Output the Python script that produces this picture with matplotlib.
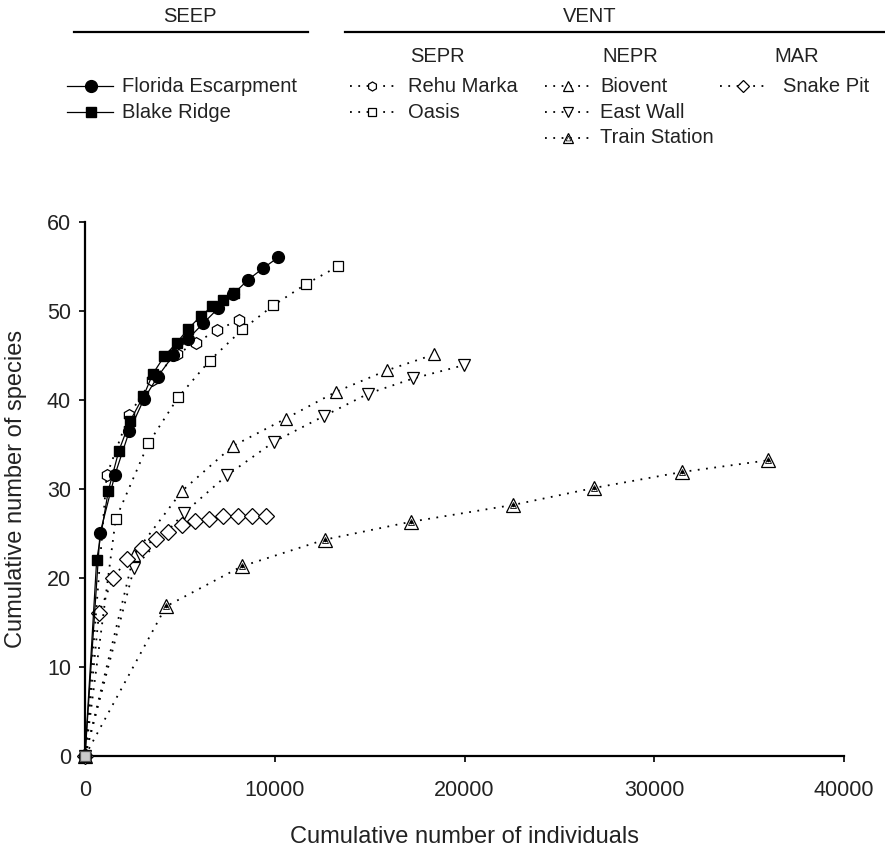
import matplotlib
matplotlib.use('Agg')
import matplotlib.pyplot as plt
from matplotlib.lines import Line2D

plt.rcParams['font.family'] = ['Liberation Sans', 'DejaVu Sans']

# cumulative individuals / cumulative species
fe_x = [0, 790, 1580, 2340, 3110, 3830, 4660, 5410, 6240, 7030, 7820, 8610, 9400, 10190]
fe_y = [0, 25.0, 31.6, 36.5, 40.1, 42.6, 45.0, 46.8, 48.6, 50.3, 51.9, 53.5, 54.8, 56.0]
br_x = [0, 615, 1230, 1790, 2370, 3080, 3570, 4180, 4830, 5450, 6100, 6710, 7260, 7850]
br_y = [0, 22.0, 29.8, 34.3, 37.6, 40.4, 42.9, 44.9, 46.4, 48.0, 49.4, 50.5, 51.2, 52.0]
rm_x = [0, 1140, 2320, 3515, 4830, 5850, 6940, 8140]
rm_y = [0, 31.5, 38.3, 42.2, 45.1, 46.4, 47.8, 49.0]
oa_x = [0, 1617, 3339, 4921, 6570, 8295, 9925, 11647, 13350]
oa_y = [0, 26.6, 35.1, 40.3, 44.4, 47.9, 50.6, 53.0, 55.0]
bv_x = [0, 2580, 5130, 7785, 10585, 13230, 15900, 18410]
bv_y = [0, 22.6, 29.8, 34.8, 37.9, 40.9, 43.3, 45.1]
ew_x = [0, 2583, 5220, 7469, 9970, 12615, 14935, 17300, 19990]
ew_y = [0, 21.1, 27.3, 31.5, 35.3, 38.2, 40.7, 42.4, 43.9]
ts_x = [0, 4270, 8260, 12650, 17165, 22575, 26825, 31480, 35980]
ts_y = [0, 16.8, 21.3, 24.3, 26.3, 28.2, 30.1, 31.9, 33.2]
sp_x = [0, 738, 1494, 2232, 2988, 3726, 4394, 5097, 5800, 6555, 7293, 8049, 8787, 9543]
sp_y = [0, 16.1, 20.0, 22.1, 23.4, 24.4, 25.1, 25.9, 26.4, 26.6, 26.9, 26.9, 27.0, 27.0]

xticks = [0, 10000, 20000, 30000, 40000]
yticks = [0, 10, 20, 30, 40, 50, 60]

W, H = 885, 851
fig = plt.figure(figsize=(W / 100, H / 100), dpi=100, facecolor='w')
ax = fig.add_axes([85 / W, 1 - 756 / H, (844 - 85) / W, (756 - 221.7) / H])

dot = (0, (1, 3.6))
solid_kw = dict(color='black', lw=0.9, ls='-', mec='black', mfc='black', clip_on=False)
open_kw = dict(color='black', lw=1.3, ls=dot, mec='black', mfc='white', mew=0.9, clip_on=False)

ax.plot(ts_x, ts_y, marker='^', ms=9.5, zorder=3, **open_kw)
ax.plot(ts_x[1:], ts_y[1:], ls='none', marker='^', ms=4.5, mec='black', mfc='none', mew=0.6, zorder=4)
ax.plot(ts_x[1:], ts_y[1:], ls='none', marker='o', ms=1.5, mec='black', mfc='black', zorder=4)
ax.plot(ew_x, ew_y, marker='v', ms=9, zorder=3, **open_kw)
ax.plot(bv_x, bv_y, marker='^', ms=9, zorder=3, **open_kw)
ax.plot(sp_x, sp_y, marker='D', ms=8, zorder=3, **open_kw)
ax.plot(oa_x, oa_y, marker='s', ms=7.5, zorder=3, **open_kw)
ax.plot(rm_x, rm_y, marker='h', ms=8.5, zorder=3, **open_kw)
ax.plot(br_x, br_y, marker='s', ms=7.5, zorder=5, **solid_kw)
ax.plot(fe_x, fe_y, marker='o', ms=8.5, zorder=6, **solid_kw)
# grey square sitting on the origin
ax.plot([0], [0], ls='none', marker='s', ms=7.5, mfc='#cccccc', mec='#555555', mew=0.9,
        zorder=7, clip_on=False)

ax.set_xlim(0, 40000)
ax.set_ylim(0, 60)
ax.set_xticks(xticks)
ax.set_yticks(yticks)
for s in ['top', 'right']:
    ax.spines[s].set_visible(False)
for s in ['left', 'bottom']:
    ax.spines[s].set_linewidth(1.6)
ax.tick_params(direction='out', length=4.5, width=1.4, labelsize=15.5, colors='#222222')
ax.tick_params(axis='x', pad=13)
ax.tick_params(axis='y', pad=5.5)
ax.set_xlabel('Cumulative number of individuals', fontsize=17, color='#222222', va='center')
ax.set_ylabel('Cumulative number of species', fontsize=17, color='#222222', va='center')
ax.xaxis.set_label_coords(0.5, -(836.7 - 756) / (756 - 221.7), transform=ax.transAxes)
ax.yaxis.set_label_coords(-(85 - 16) / (844 - 85), 0.5, transform=ax.transAxes)


# grouped legend drawn in figure pixels (top-left origin)
def fx(px):
    return px / W


def fy(py):
    return 1 - py / H


def handle(x0, xm, x1, y, ls, lw, **mk):
    fig.add_artist(Line2D([fx(x0), fx(x1)], [fy(y), fy(y)], transform=fig.transFigure,
                          color='black', ls=ls, lw=lw))
    fig.add_artist(Line2D([fx(xm)], [fy(y)], transform=fig.transFigure, ls='none', **mk))


txt_kw = dict(fontsize=14.5, color='#222222', va='center')
fig.text(fx(190), fy(16), 'SEEP', ha='center', **txt_kw)
fig.text(fx(590), fy(16), 'VENT', ha='center', **txt_kw)
fig.add_artist(Line2D([fx(74), fx(308)], [fy(32.3), fy(32.3)], transform=fig.transFigure,
                      color='black', lw=1.6))
fig.add_artist(Line2D([fx(345), fx(885)], [fy(32.3), fy(32.3)], transform=fig.transFigure,
                      color='black', lw=1.6))
fig.text(fx(437), fy(57), 'SEPR', ha='center', **txt_kw)
fig.text(fx(630), fy(57), 'NEPR', ha='center', **txt_kw)
fig.text(fx(797), fy(57), 'MAR', ha='center', **txt_kw)

rows = [86, 112, 137.5]
open_mk = dict(mec='black', mfc='white', mew=0.9)
handle(67, 90.7, 113, rows[0], '-', 0.9, marker='o', ms=8.5, mec='black', mfc='black')
fig.text(fx(122), fy(rows[0]), 'Florida Escarpment', ha='left', **txt_kw)
handle(67, 90.7, 113, rows[1], '-', 0.9, marker='s', ms=7.5, mec='black', mfc='black')
fig.text(fx(122), fy(rows[1]), 'Blake Ridge', ha='left', **txt_kw)

handle(350, 372, 397, rows[0], dot, 1.3, marker='h', ms=6.5, **open_mk)
fig.text(fx(408), fy(rows[0]), 'Rehu Marka', ha='left', **txt_kw)
handle(350, 372, 397, rows[1], dot, 1.3, marker='s', ms=5.5, **open_mk)
fig.text(fx(408), fy(rows[1]), 'Oasis', ha='left', **txt_kw)

handle(545, 568, 591, rows[0], dot, 1.3, marker='^', ms=7, **open_mk)
fig.text(fx(600), fy(rows[0]), 'Biovent', ha='left', **txt_kw)
handle(545, 568, 591, rows[1], dot, 1.3, marker='v', ms=7, **open_mk)
fig.text(fx(600), fy(rows[1]), 'East Wall', ha='left', **txt_kw)
handle(545, 568, 591, rows[2], dot, 1.3, marker='^', ms=7, **open_mk)
fig.add_artist(Line2D([fx(568)], [fy(rows[2])], transform=fig.transFigure, ls='none',
                      marker='^', ms=3.5, mec='black', mfc='none', mew=0.5))
fig.text(fx(600), fy(rows[2]), 'Train Station', ha='left', **txt_kw)

handle(720, 743, 766, rows[0], dot, 1.3, marker='D', ms=6, **open_mk)
fig.text(fx(783), fy(rows[0]), 'Snake Pit', ha='left', **txt_kw)

fig.savefig('out.png', dpi=100, facecolor='w')
